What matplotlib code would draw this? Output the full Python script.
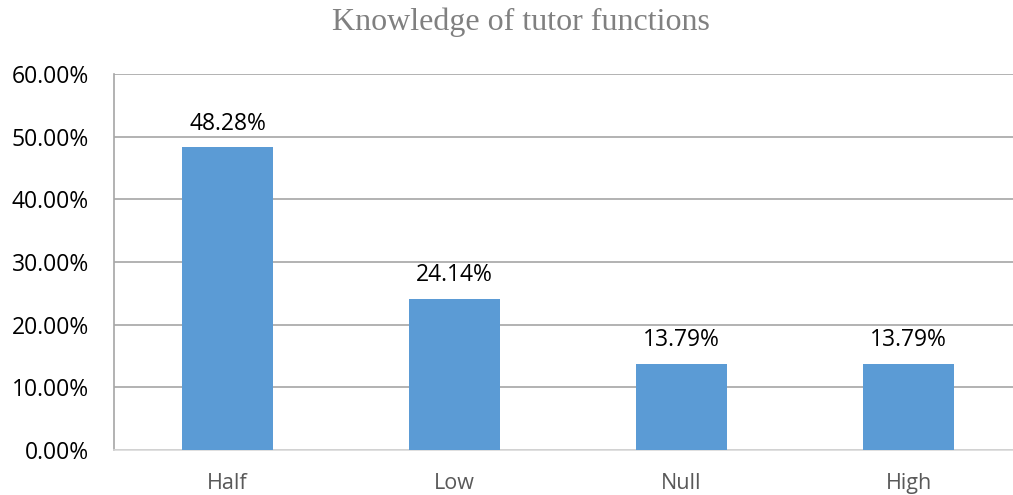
import matplotlib
matplotlib.use("Agg")
import matplotlib.pyplot as plt
from matplotlib.ticker import FuncFormatter

categories = ["Half", "Low", "Null", "High"]
values = [48.28, 24.14, 13.79, 13.79]
yticks = [0, 10, 20, 30, 40, 50, 60]

fig = plt.figure(figsize=(10.13, 4.95), dpi=100)
ax = fig.add_axes([114/1013, 1-450/495, 908/1013, 376/495])

x = range(len(categories))
bars = ax.bar(x, values, width=0.4, color="#5B9BD5", zorder=3)
ax.set_xlim(-0.5, len(categories) - 0.5)
ax.set_ylim(0, 60)
ax.set_yticks(yticks)
ax.yaxis.set_major_formatter(FuncFormatter(lambda v, p: f"{v:.2f}%"))
ax.set_xticks(list(x))
ax.set_xticklabels(categories)

font = "Open Sans"
for lab in ax.get_yticklabels():
    lab.set_fontfamily(font); lab.set_fontsize(16.5); lab.set_color("#000000")
for lab in ax.get_xticklabels():
    lab.set_fontfamily(font); lab.set_fontsize(15.5); lab.set_color("#595959")

ax.tick_params(axis="both", length=0)
ax.tick_params(axis="y", pad=18)
ax.tick_params(axis="x", pad=16.5)
ax.grid(axis="y", color="#A6A6A6", linewidth=1.2, zorder=0)
for s in ["top", "right"]:
    ax.spines[s].set_visible(False)
ax.spines["left"].set_color("#A6A6A6")
ax.spines["left"].set_linewidth(1.2)
ax.spines["bottom"].set_color("#D9D9D9")
ax.spines["bottom"].set_linewidth(1.2)

for xi, v in zip(x, values):
    ax.annotate(f"{v:.2f}%", (xi, v), xytext=(0, 8.5), textcoords="offset points",
                ha="center", va="bottom", fontsize=16.5, fontfamily=font, color="#000000")

fig.text(521/1013, 1-22/495, "Knowledge of tutor functions", ha="center", va="center",
         fontsize=23, fontfamily="Liberation Serif", color="#808080")

fig.savefig("out.png", dpi=100)
